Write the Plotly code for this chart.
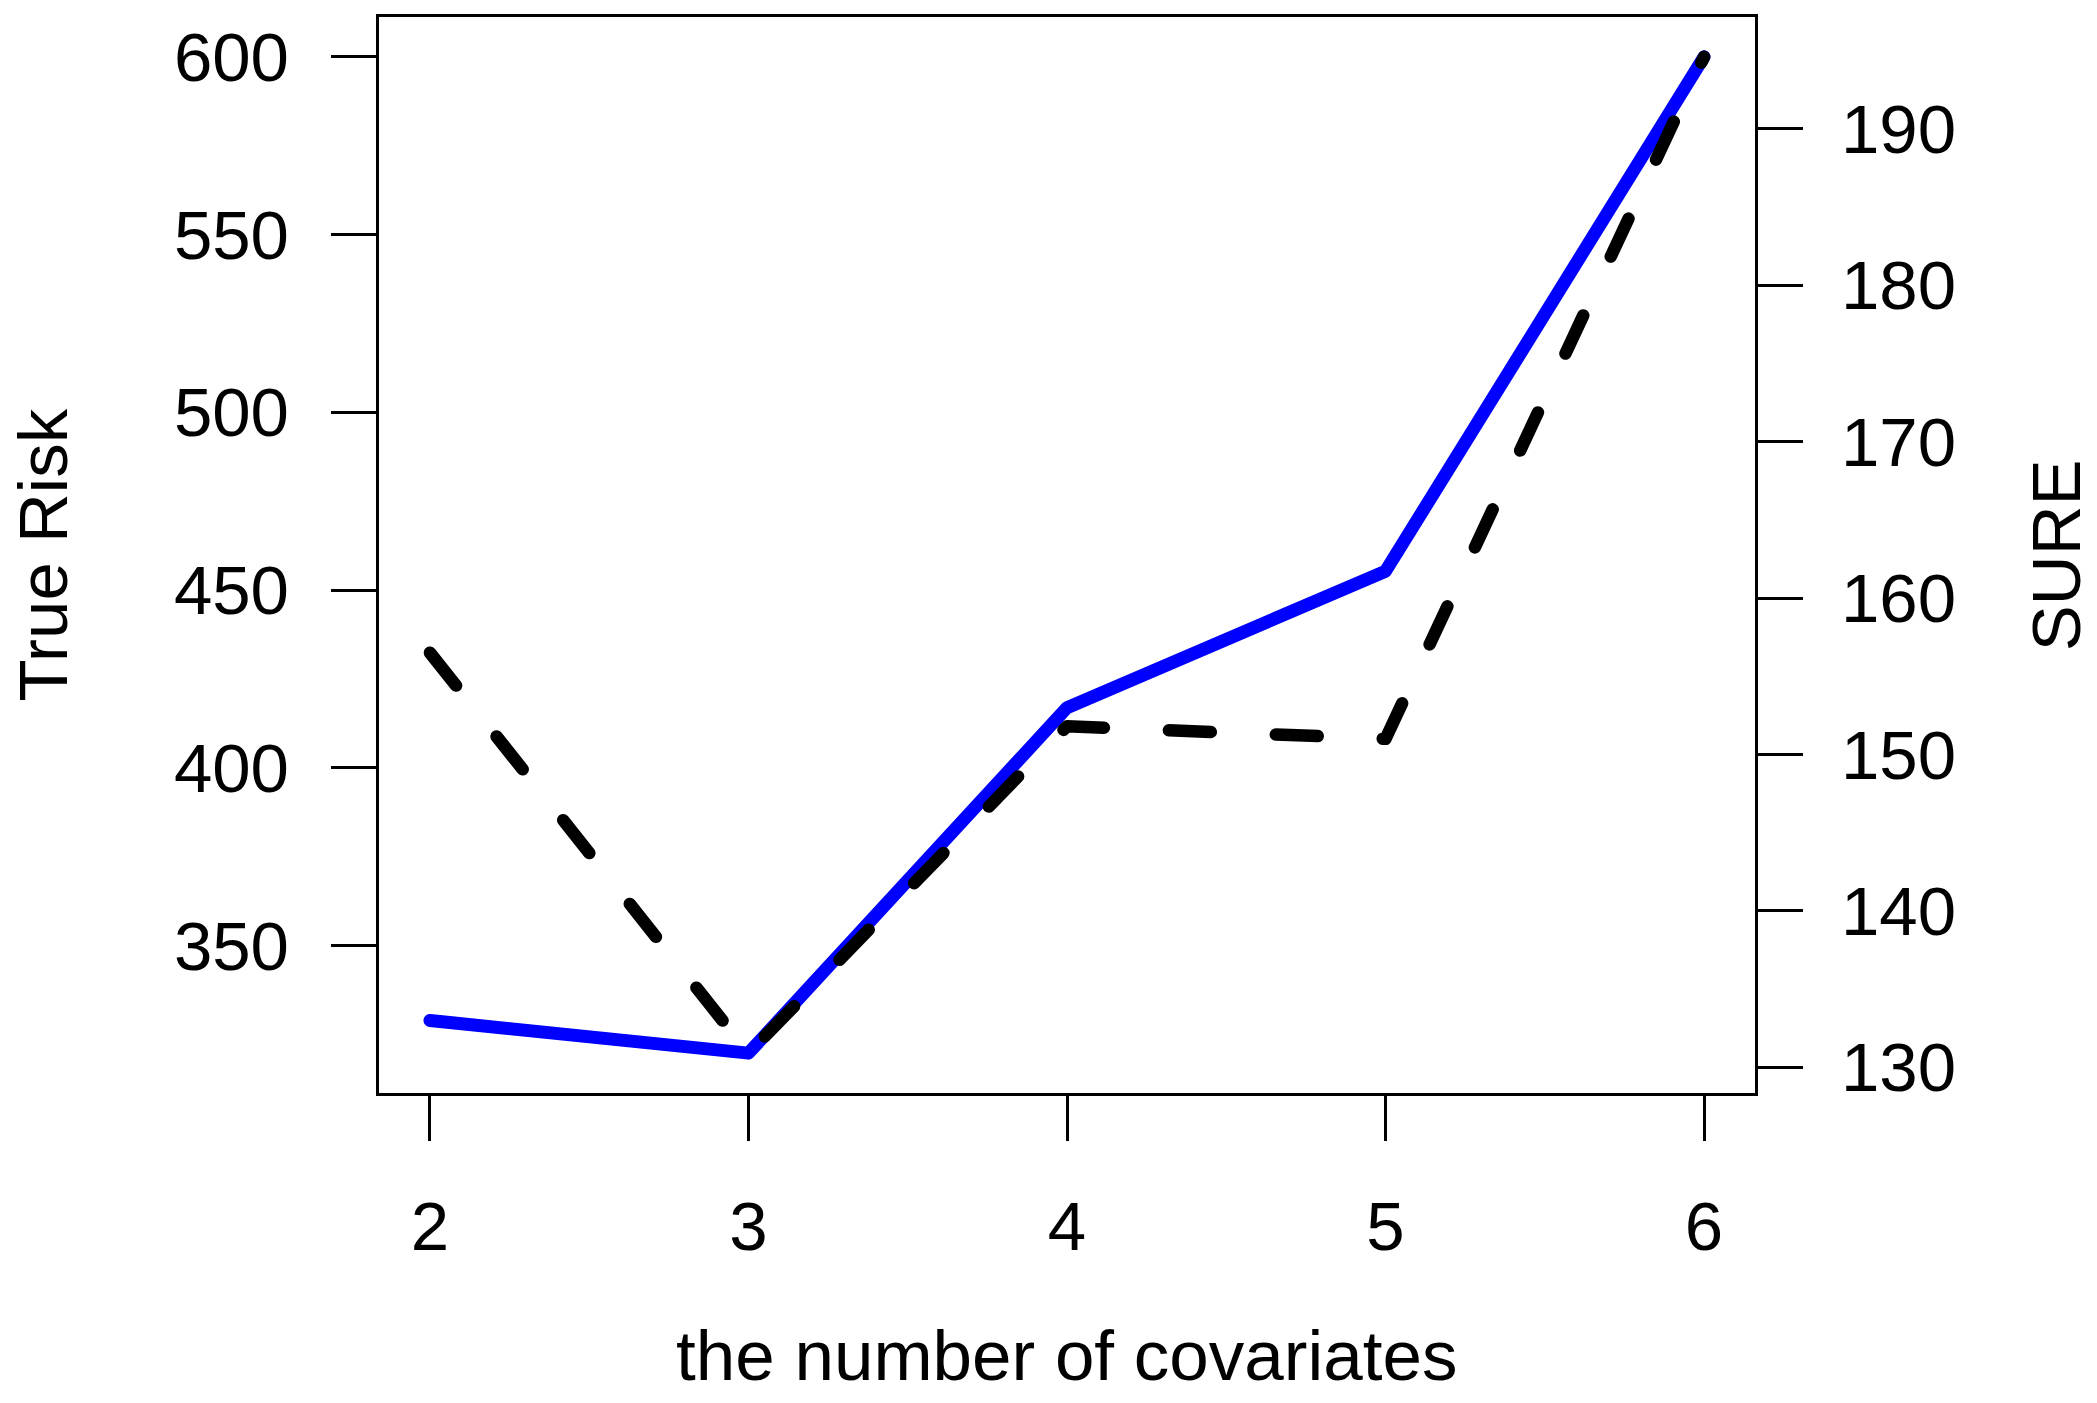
import plotly.graph_objects as go

# ---- data ----
covariates = [2, 3, 4, 5, 6]
true_risk = [328.9, 319.7, 416.9, 455.3, 600.0]
sure = [156.5, 130.9, 151.8, 151.0, 194.6]

left_ticks = [350, 400, 450, 500, 550, 600]
right_ticks = [130, 140, 150, 160, 170, 180, 190]
x_ticks = [2, 3, 4, 5, 6]

x_label = "the number of covariates"
y_label = "True Risk"
y2_label = "SURE"

W, H = 2097, 1403
L, R, T, B = 378.5, 1754.7, 17.4, 1092.7   # plot box in pixels
FONT = "Liberation Sans, Arial, Helvetica, sans-serif"
FS = 69
TICKLEN = 45
LW_AX = 3.4


def r_range(v):
    lo, hi = min(v), max(v)
    d = (hi - lo) * 0.04
    return [lo - d, hi + d]


def px2paper_x(px):
    return (px - L) / (R - L)


def px2paper_y(py):
    return (B - py) / (B - T)


fig = go.Figure()
fig.add_trace(go.Scatter(x=covariates, y=true_risk, mode="lines",
                         line=dict(color="#0000ff", width=13),
                         yaxis="y", showlegend=False))
fig.add_trace(go.Scatter(x=covariates, y=sure, mode="lines",
                         line=dict(color="#000000", width=12.5, dash="42px,65px"),
                         yaxis="y2", showlegend=False))

axis_common = dict(showgrid=False, zeroline=False, ticks="outside",
                   ticklen=TICKLEN, tickwidth=LW_AX, tickcolor="black",
                   showline=True, linecolor="black", linewidth=LW_AX,
                   tickfont=dict(family=FONT, size=FS, color="black"))

fig.update_layout(
    width=W, height=H,
    margin=dict(l=L, r=W - R, t=T, b=H - B, pad=0),
    paper_bgcolor="white", plot_bgcolor="white",
    xaxis=dict(range=r_range(covariates), tickvals=x_ticks,
               ticktext=[str(v) for v in x_ticks], mirror=True,
               ticklabelstandoff=26, **axis_common),
    yaxis=dict(range=r_range(true_risk), tickvals=left_ticks,
               ticktext=[str(v) for v in left_ticks],
               ticklabelstandoff=28, **axis_common),
    yaxis2=dict(range=r_range(sure), tickvals=right_ticks,
                ticktext=[str(v) for v in right_ticks],
                overlaying="y", side="right",
                ticklabelstandoff=24, **axis_common),
    annotations=[
        dict(text=x_label, xref="paper", yref="paper",
             x=px2paper_x(1066), y=px2paper_y(1355),
             xanchor="center", yanchor="middle", showarrow=False,
             font=dict(family=FONT, size=71, color="black")),
        dict(text=y_label, xref="paper", yref="paper",
             x=px2paper_x(43), y=px2paper_y(555), textangle=-90,
             xanchor="center", yanchor="middle", showarrow=False,
             font=dict(family=FONT, size=FS, color="black")),
        dict(text=y2_label, xref="paper", yref="paper",
             x=px2paper_x(2057), y=px2paper_y(555), textangle=-90,
             xanchor="center", yanchor="middle", showarrow=False,
             font=dict(family=FONT, size=FS, color="black")),
    ],
)

post = ("document.body.style.margin='0';document.body.style.padding='0';"
        "document.querySelectorAll('path.js-line').forEach(function(p){"
        "p.style.strokeLinecap='round';p.style.strokeLinejoin='round';});")
fig.write_html("out.html", post_script=post, config={"displayModeBar": False})
